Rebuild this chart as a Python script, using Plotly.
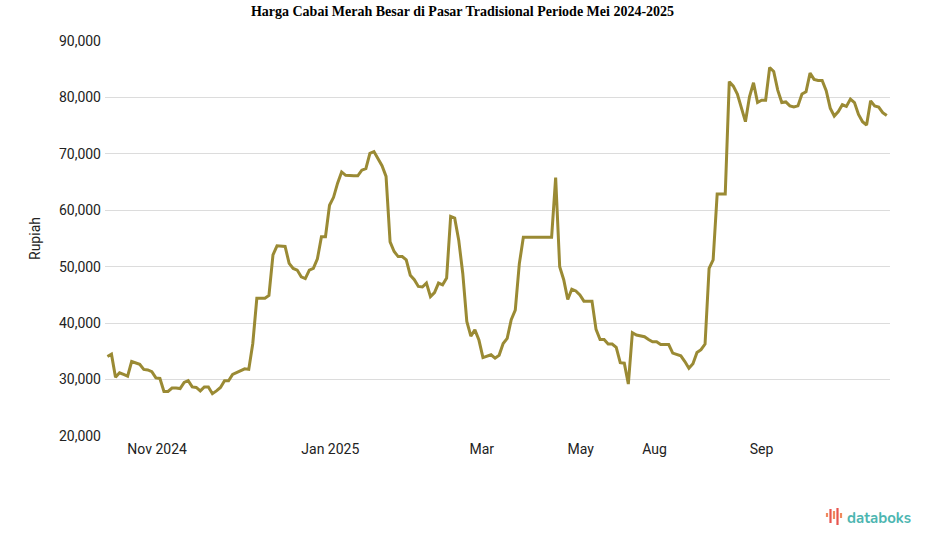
import plotly.graph_objects as go

# Harga (Rupiah), in order
harga = [
    34100, 34500, 30400, 31200, 30900, 30600, 33200, 33000, 32700, 31800,
    31700, 31400, 30300, 30200, 27900, 27900, 28500, 28500, 28400, 29500,
    29800, 28700, 28600, 28000, 28700, 28700, 27500, 28000, 28600, 29800,
    29800, 30900, 31200, 31500, 31900, 31800, 36400, 44400, 44400, 44400,
    44900, 52100, 53700, 53700, 53600, 50600, 49700, 49400, 48200, 47900,
    49400, 49700, 51400, 55300, 55300, 60900, 62300, 64800, 66800, 66200,
    66100, 66100, 66100, 67100, 67400, 70100, 70400, 69200, 67900, 66000,
    54400, 52700, 51800, 51800, 51200, 48500, 47700, 46500, 46400, 47100,
    44700, 45400, 47100, 46800, 48000, 58900, 58600, 54700, 48800, 40300,
    37700, 38800, 37000, 33900, 34200, 34400, 33800, 34300, 36400, 37300,
    40600, 42300, 50500, 55200, 55200, 55200, 55200, 55200, 55200, 55200,
    55200, 65800, 50000, 47700, 44200, 46000, 45700, 45000, 43900, 43900,
    43900, 38900, 37100, 37100, 36300, 36300, 35700, 33000, 32900, 29200,
    38300, 37900, 37800, 37600, 37100, 36700, 36700, 36200, 36200, 36200,
    34700, 34500, 34200, 33200, 32000, 32800, 34800, 35300, 36300, 49700,
    51200, 62900, 62900, 62900, 82800, 82000, 80600, 78100, 75700, 80100,
    82600, 79100, 79500, 79500, 85300, 84600, 81300, 79100, 79200, 78500,
    78300, 78500, 80600, 81000, 84300, 83200, 83000, 83000, 81200, 78100,
    76700, 77500, 78700, 78400, 79700, 79100, 77000, 75700, 75100, 79400,
    78500, 78300, 77300, 76800,
]
titik = list(range(len(harga)))

# x tick labels and the observation index where each sits
label_bulan = ["Nov 2024", "Jan 2025", "Mar", "May", "Aug", "Sep"]
posisi_bulan = [12.3, 55.2, 92.7, 117.2, 135.5, 162.0]

y_ticks = [20000, 30000, 40000, 50000, 60000, 70000, 80000, 90000]

fig = go.Figure()
fig.add_trace(go.Scatter(
    x=titik, y=harga, mode="lines",
    line=dict(color="#9a8a34", width=3),
    hoverinfo="y", showlegend=False,
))

fig.update_layout(
    width=925, height=547,
    margin=dict(l=105, r=35, t=41, b=111),
    paper_bgcolor="white", plot_bgcolor="white",
    font=dict(family="Roboto", size=14, color="#222222"),
    title=dict(
        text="<b>Harga Cabai Merah Besar di Pasar Tradisional Periode Mei 2024-2025</b>",
        font=dict(family="Liberation Serif", size=14, color="#000000"),
        x=0.5, xanchor="center", y=0.98, yanchor="middle",
    ),
    xaxis=dict(
        range=[-0.6, 193.8],
        tickmode="array", tickvals=posisi_bulan, ticktext=label_bulan,
        showgrid=False, zeroline=False, showline=False, ticks="",
        ticklabelstandoff=3,
        tickfont=dict(size=14, color="#222222"),
    ),
    yaxis=dict(
        range=[20000, 90000],
        tickmode="array", tickvals=y_ticks,
        tickformat=",d",
        showgrid=True, gridcolor="#dcdcdc", gridwidth=1,
        zeroline=False, showline=False, ticks="",
        ticklabelstandoff=3,
        tickfont=dict(size=14, color="#222222"),
        title=dict(text="Rupiah", font=dict(size=14, color="#222222"), standoff=14),
    ),
)

# databoks logo (text + small bars icon)
fig.add_annotation(
    xref="paper", yref="paper", x=(913 - 105) / 785, y=(436 - 518) / 395,
    xanchor="right", yanchor="middle",
    text="<b>databoks</b>", showarrow=False,
    font=dict(family="Nunito, Lato, sans-serif", size=15, color="#4db6b1"),
)
bar_cols = ["#f08a5d", "#e8554e", "#f08a5d", "#e8554e", "#f08a5d"]
bar_x = [827, 830.5, 834, 837.5, 841]
bar_top = [513, 509, 511, 508, 513]
bar_bot = [517, 523, 519, 525, 518]
for cx, t, b, c in zip(bar_x, bar_top, bar_bot, bar_cols):
    fig.add_shape(type="line", xref="paper", yref="paper",
                  x0=(cx - 105) / 785, x1=(cx - 105) / 785,
                  y0=(436 - b) / 395, y1=(436 - t) / 395,
                  line=dict(color=c, width=2.2))

fig.write_html(
    "out.html",
    config={"displayModeBar": False},
    post_script="document.body.style.margin='0';document.body.style.padding='0';",
)
